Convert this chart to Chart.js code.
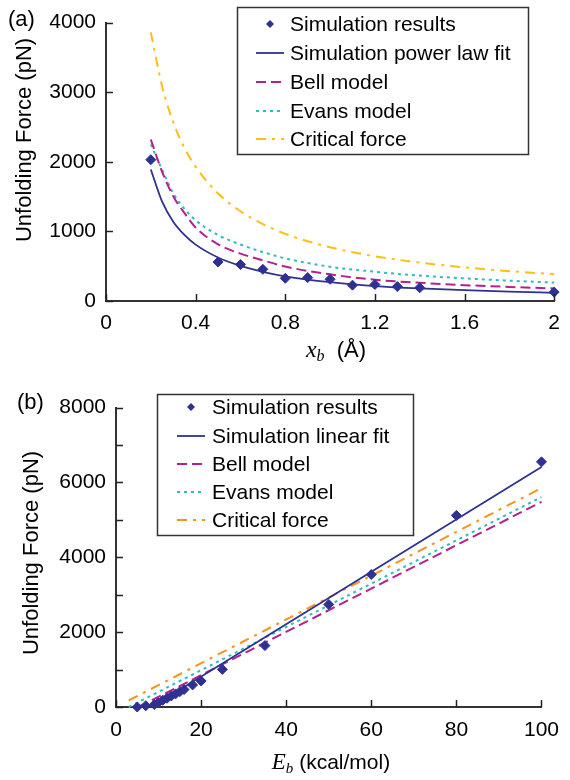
<!DOCTYPE html>
<html><head><meta charset="utf-8">
<script src="https://cdn.jsdelivr.net/npm/chart.js@4.4.0/dist/chart.umd.min.js"></script>
<style>
html,body{margin:0;padding:0;background:#fff;}
#wrap{position:relative;width:570px;height:780px;overflow:hidden;}
canvas{position:absolute;left:0;}
#c1{top:0}
#c2{top:385px}
</style></head><body>
<div id="wrap">
<canvas id="c1" width="570" height="385"></canvas>
<canvas id="c2" width="570" height="395"></canvas>
</div>
<script>
// ---------- Panel (a) data ----------
const xbSim = [0.2, 0.5, 0.6, 0.7, 0.8, 0.9, 1.0, 1.1, 1.2, 1.3, 1.4, 2.0];
const fSimA = [2030, 560, 525, 455, 326, 336, 312, 228, 237, 208, 190, 128];
const xbCurve = [0.2, 0.25, 0.3, 0.35, 0.4, 0.5, 0.6, 0.7, 0.8, 1.0, 1.2, 1.4, 1.6, 1.8, 2.0];
const fPowerFit = [1890, 1430, 1140, 950, 810, 625, 505, 420, 355, 270, 215, 180, 155, 135, 118];
const fBellA = [2320, 1860, 1505, 1265, 1055, 815, 680, 585, 495, 383, 305, 262, 228, 202, 180];
const fEvansA = [2250, 1890, 1548, 1326, 1159, 948, 812, 703, 613, 492, 420, 365, 325, 292, 265];
const fCritA = [3860, 3090, 2570, 2200, 1930, 1545, 1290, 1105, 965, 772, 643, 552, 483, 429, 386];
const xTicksA = [0, 0.4, 0.8, 1.2, 1.6, 2];
const yTicksA = [0, 1000, 2000, 3000, 4000];

// ---------- Panel (b) data ----------
const ebSim = [5, 7, 9, 10, 11, 12, 13, 14, 15, 16, 18, 20, 25, 35, 50, 60, 80, 100];
const fSimB = [0, 35, 65, 120, 180, 235, 295, 350, 410, 465, 590, 696, 1005, 1640, 2740, 3540, 5120, 6550];
const ebLinFit = [8.4, 100];
const fLinFit = [0, 6415];
const ebBell = [5.3, 100];
const fBellB = [0, 5480];
const ebEvans = [3, 100];
const fEvansB = [0, 5610];
const ebCrit = [3, 100];
const fCritB = [175, 5850];
const xTicksB = [0, 20, 40, 60, 80, 100];
const yTicksB = [0, 1000, 2000, 3000, 4000, 5000, 6000, 7000, 8000];

const SANS = "'Liberation Sans', Arial, sans-serif";
const SERIF = "'Liberation Serif', 'Times New Roman', serif";
const BLUE = '#2E3192', MAG = '#B5218C', CYAN = '#2DBDBD', YEL = '#FDBF12', ORA = '#F7941D';

const pts = (xs, ys) => xs.map((x, i) => ({x: x, y: ys[i]}));

// inward tick marks drawn from the library's scales
const inwardTicks = {
  id: 'inwardTicks',
  afterDraw(chart) {
    const ctx = chart.ctx, ca = chart.chartArea;
    const xs = chart.scales.x, ys = chart.scales.y;
    ctx.save();
    ctx.strokeStyle = '#222'; ctx.lineWidth = 1.5;
    xs.ticks.forEach(t => {
      const p = Math.round(xs.getPixelForValue(t.value)) + 0.5;
      ctx.beginPath(); ctx.moveTo(p, ca.bottom); ctx.lineTo(p, ca.bottom - 7); ctx.stroke();
    });
    ys.ticks.forEach(t => {
      const p = Math.round(ys.getPixelForValue(t.value)) + 0.5;
      ctx.beginPath(); ctx.moveTo(ca.left, p); ctx.lineTo(ca.left + 7, p); ctx.stroke();
    });
    ctx.restore();
  }
};

const boxLegend = {
  id: 'boxLegend',
  afterDraw(chart, args, o) {
    if (!o || !o.box) return;
    const ctx = chart.ctx;
    const [x1, y1, x2, y2] = o.box;
    ctx.save();
    ctx.fillStyle = '#fff';
    ctx.fillRect(x1, y1, x2 - x1, y2 - y1);
    ctx.strokeStyle = '#333'; ctx.lineWidth = 1.5;
    ctx.strokeRect(x1 + 0.5, y1 + 0.5, x2 - x1, y2 - y1);
    chart.data.datasets.forEach((ds, i) => {
      const y = o.rows[i];
      if (ds.showLine === false) {
        const cx = (o.sx1 + o.sx2) / 2, r = 4;
        ctx.fillStyle = ds.backgroundColor;
        ctx.beginPath();
        ctx.moveTo(cx, y - r); ctx.lineTo(cx + r, y); ctx.lineTo(cx, y + r); ctx.lineTo(cx - r, y);
        ctx.closePath(); ctx.fill();
      } else {
        ctx.strokeStyle = ds.borderColor; ctx.lineWidth = ds.borderWidth;
        ctx.setLineDash(ds.borderDash || []);
        ctx.beginPath(); ctx.moveTo(o.sx1, y); ctx.lineTo(o.sx2, y); ctx.stroke();
        ctx.setLineDash([]);
      }
      ctx.fillStyle = '#000'; ctx.font = o.font;
      ctx.textBaseline = 'middle'; ctx.textAlign = 'left';
      ctx.fillText(ds.label, o.tx, y + 1);
    });
    ctx.restore();
  }
};

const texts = {
  id: 'texts',
  afterDraw(chart, args, o) {
    const ctx = chart.ctx;
    (o.items || []).forEach(it => {
      ctx.save();
      ctx.translate(it.x, it.y);
      if (it.rot) ctx.rotate(it.rot);
      ctx.textBaseline = 'middle'; ctx.textAlign = 'left'; ctx.fillStyle = '#000';
      let total = 0;
      it.parts.forEach(p => { ctx.font = p.font; p.w = ctx.measureText(p.t).width; total += p.w; });
      let cx = it.align === 'left' ? 0 : -total / 2;
      it.parts.forEach(p => { ctx.font = p.font; ctx.fillText(p.t, cx, p.dy || 0); cx += p.w; });
      ctx.restore();
    });
  }
};

function axisCommon(min, max, tickVals, labelFn, fit, pad) {
  return {
    type: 'linear', min: min, max: max,
    afterBuildTicks: s => { s.ticks = tickVals.map(v => ({value: v})); },
    ticks: {font: {family: SANS, size: 21}, color: '#000', padding: pad, autoSkip: false, maxRotation: 0, callback: labelFn},
    grid: {display: true, drawOnChartArea: false, drawTicks: false},
    border: {display: true, color: '#333', width: 2},
    afterFit: fit
  };
}

// ---------- Chart (a) ----------
new Chart(document.getElementById('c1'), {
  type: 'scatter',
  data: {
    datasets: [
      {label: 'Simulation results', data: pts(xbSim, fSimA), showLine: false, pointStyle: 'rectRot', pointRadius: 5, backgroundColor: BLUE, borderColor: BLUE, borderWidth: 1, clip: false},
      {label: 'Simulation power law fit', data: pts(xbCurve, fPowerFit), showLine: true, pointRadius: 0, borderColor: BLUE, borderWidth: 1.8, cubicInterpolationMode: 'monotone', clip: false},
      {label: 'Bell model', data: pts(xbCurve, fBellA), showLine: true, pointRadius: 0, borderColor: MAG, borderWidth: 2, borderDash: [10, 5], cubicInterpolationMode: 'monotone', clip: false},
      {label: 'Evans model', data: pts(xbCurve, fEvansA), showLine: true, pointRadius: 0, borderColor: CYAN, borderWidth: 2, borderDash: [3, 4], cubicInterpolationMode: 'monotone', clip: false},
      {label: 'Critical force', data: pts(xbCurve, fCritA), showLine: true, pointRadius: 0, borderColor: YEL, borderWidth: 2, borderDash: [10, 6, 3, 6], cubicInterpolationMode: 'monotone', clip: false}
    ]
  },
  options: {
    responsive: false, animation: false, devicePixelRatio: 1,
    layout: {padding: {left: 0, right: 8, top: 20, bottom: 0}},
    scales: {
      x: axisCommon(0, 2, xTicksA, v => String(v), s => { s.height = 84; }, 10),
      y: axisCommon(0, 4000, yTicksA, v => String(v), s => { s.width = 106; }, 10)
    },
    plugins: {
      legend: {display: false}, tooltip: {enabled: false},
      boxLegend: {box: [237, 7, 528, 154], rows: [24, 53, 82, 111, 139], sx1: 256, sx2: 284, tx: 290, font: '21px ' + SANS},
      texts: {items: [
        {x: 8, y: 20, align: 'left', parts: [{t: '(a)', font: '22px ' + SANS}]},
        {x: 25, y: 140, rot: -Math.PI / 2, parts: [{t: 'Unfolding Force (pN)', font: '22px ' + SANS}]},
        {x: 336, y: 351, parts: [
          {t: 'x', font: 'italic 24px ' + SERIF},
          {t: 'b', font: 'italic 16px ' + SERIF, dy: 6},
          {t: '  (\u00C5)', font: '22px ' + SANS}
        ]}
      ]}
    }
  },
  plugins: [inwardTicks, boxLegend, texts]
});

// ---------- Chart (b) ----------
new Chart(document.getElementById('c2'), {
  type: 'scatter',
  data: {
    datasets: [
      {label: 'Simulation results', data: pts(ebSim, fSimB), showLine: false, pointStyle: 'rectRot', pointRadius: 5, backgroundColor: BLUE, borderColor: BLUE, borderWidth: 1, clip: false},
      {label: 'Simulation linear fit', data: pts(ebLinFit, fLinFit), showLine: true, pointRadius: 0, borderColor: BLUE, borderWidth: 1.8, clip: false},
      {label: 'Bell model', data: pts(ebBell, fBellB), showLine: true, pointRadius: 0, borderColor: MAG, borderWidth: 2, borderDash: [10, 5], clip: false},
      {label: 'Evans model', data: pts(ebEvans, fEvansB), showLine: true, pointRadius: 0, borderColor: CYAN, borderWidth: 2, borderDash: [3, 4], clip: false},
      {label: 'Critical force', data: pts(ebCrit, fCritB), showLine: true, pointRadius: 0, borderColor: ORA, borderWidth: 2, borderDash: [10, 6, 3, 6], clip: false}
    ]
  },
  options: {
    responsive: false, animation: false, devicePixelRatio: 1,
    layout: {padding: {left: 0, right: 25, top: 19, bottom: 0}},
    scales: {
      x: axisCommon(0, 100, xTicksB, v => String(v), s => { s.height = 73; }, 11),
      y: axisCommon(0, 8000, yTicksB, v => (v % 2000 === 0 ? String(v) : ''), s => { s.width = 116; }, 10)
    },
    plugins: {
      legend: {display: false}, tooltip: {enabled: false},
      boxLegend: {box: [157, 9, 413, 150], rows: [22, 51, 79, 107, 135], sx1: 177, sx2: 205, tx: 212, font: '21px ' + SANS},
      texts: {items: [
        {x: 17, y: 18, align: 'left', parts: [{t: '(b)', font: '22px ' + SANS}]},
        {x: 32, y: 168, rot: -Math.PI / 2, parts: [{t: 'Unfolding Force (pN)', font: '22px ' + SANS}]},
        {x: 331, y: 378, parts: [
          {t: 'E', font: 'italic 23px ' + SERIF},
          {t: 'b', font: 'italic 15px ' + SERIF, dy: 6},
          {t: ' (kcal/mol)', font: '21px ' + SANS}
        ]}
      ]}
    }
  },
  plugins: [inwardTicks, boxLegend, texts]
});
</script>
</body></html>
